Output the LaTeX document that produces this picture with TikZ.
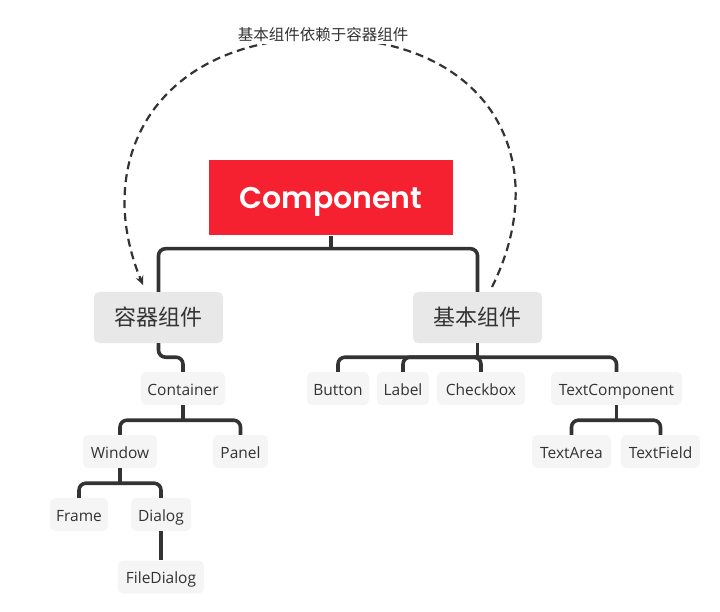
\documentclass[tikz,border=0pt]{standalone}
\usepackage{fontspec}
\setmainfont{Open Sans}
\newfontfamily\cjk{Noto Sans CJK SC}
\newfontfamily\bigfont[BoldFont={Poppins SemiBold}]{Poppins}
\usetikzlibrary{calc,arrows.meta}
\definecolor{compred}{RGB}{245,32,48}
\definecolor{linec}{RGB}{51,51,51}
\definecolor{catfill}{RGB}{232,232,232}
\definecolor{leaffill}{RGB}{245,245,245}
\definecolor{txt}{RGB}{51,51,51}
\begin{document}
\begin{tikzpicture}[x=1pt,y=-1pt,
  mainbox/.style={fill=compred,draw=none,text=white,minimum width=244pt,minimum height=75pt,inner sep=0pt,text height=22pt,text depth=0pt,font=\bigfont\bfseries\fontsize{30}{33}\selectfont},
  catbox/.style={fill=catfill,draw=none,rounded corners=5pt,text=txt,minimum width=129pt,minimum height=51pt,inner sep=0pt,font=\cjk\fontsize{22}{24}\selectfont},
  leafbox/.style={fill=leaffill,draw=none,rounded corners=5pt,text=txt,minimum height=33pt,inner sep=0pt,text height=13pt,text depth=0pt,font=\fontsize{15.5}{17}\selectfont},
  conn/.style={draw=linec,line width=3.6pt,rounded corners=7pt},
  depend/.style={draw=linec,line width=2.2pt,dash pattern=on 8pt off 5pt,-{Stealth[length=9pt,width=8pt]}},
]
\useasboundingbox (0,0) rectangle (720,612);
% nodes
\node[mainbox] (comp) at (331,198) {Component};
\node[catbox] (rongqi) at (158.5,317.5) {容器组件};
\node[catbox] (jiben) at (477.5,317.5) {基本组件};
\node[leafbox,minimum width=84pt] (cont) at (183,388.5) {Container};
\node[leafbox,minimum width=74pt] (window) at (120,451.5) {Window};
\node[leafbox,minimum width=55pt] (panel) at (240.5,451.5) {Panel};
\node[leafbox,minimum width=58pt] (frame) at (79,514.5) {Frame};
\node[leafbox,minimum width=60pt] (dialog) at (161,514.5) {Dialog};
\node[leafbox,minimum width=86pt] (filedialog) at (161,577) {FileDialog};
\node[leafbox,minimum width=62pt] (button) at (338,388.5) {Button};
\node[leafbox,minimum width=52pt] (label) at (403,388.5) {Label};
\node[leafbox,minimum width=88pt] (checkbox) at (481,388.5) {Checkbox};
\node[leafbox,minimum width=131pt] (textcomp) at (616.5,388.5) {TextComponent};
\node[leafbox,minimum width=79pt] (textarea) at (571.5,451.5) {TextArea};
\node[leafbox,minimum width=79pt] (textfield) at (660.5,451.5) {TextField};
% connectors
\coordinate (s0) at ($(comp.south)+(0,13)$);
\draw[conn] (comp.south) -- (s0);
\draw[conn] (rongqi.north) |- (s0) -| (jiben.north);
\draw[conn] (rongqi.south) -- ++(0,14) -| (cont.north);
\coordinate (s1) at ($(cont.south)+(0,15)$);
\draw[conn] (cont.south) -- (s1);
\draw[conn] (window.north) |- (s1) -| (panel.north);
\coordinate (s2) at ($(window.south)+(0,15)$);
\draw[conn] (window.south) -- (s2);
\draw[conn] (frame.north) |- (s2) -| (dialog.north);
\draw[conn] (dialog.south) -- (filedialog.north);
\coordinate (s3) at ($(jiben.south)+(0,14)$);
\draw[conn] (jiben.south) -- (s3);
\draw[conn] (button.north) |- (s3) -| (textcomp.north);
\draw[conn] (s3) -| (label.north);
\draw[conn] (s3) -| (checkbox.north);
\coordinate (s4) at ($(textcomp.south)+(0,15)$);
\draw[conn] (textcomp.south) -- (s4);
\draw[conn] (textarea.north) |- (s4) -| (textfield.north);
% dependency arrow
\coordinate (dstart) at (492,287);
\coordinate (dtop) at (323,38);
\coordinate (dend) at (143,285);
\draw[depend] (dstart) .. controls (555,160) and (490,38) .. (dtop)
  .. controls (156,38) and (91,160) .. (dend);
\node[fill=white,text=txt,inner sep=2pt,font=\cjk\fontsize{15.5}{17}\selectfont] (deplabel) at (323,35) {基本组件依赖于容器组件};
\end{tikzpicture}
\end{document}
